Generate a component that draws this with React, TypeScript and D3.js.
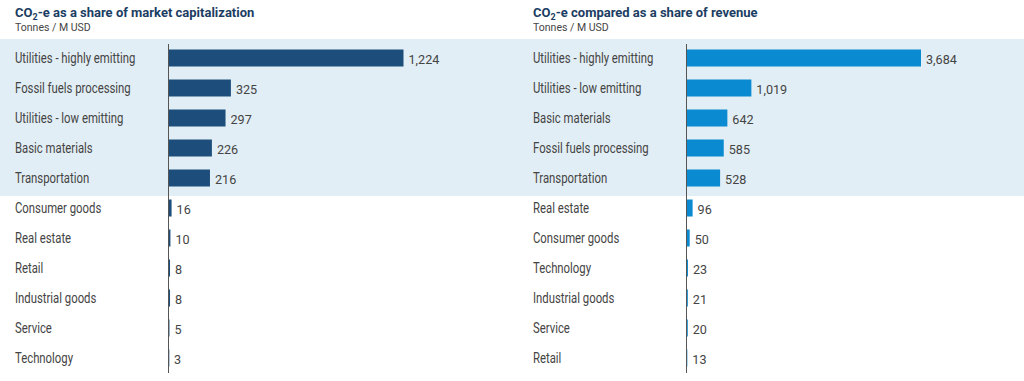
import React from "react";
import * as d3 from "d3";

const capCategories = [
  "Utilities - highly emitting",
  "Fossil fuels processing",
  "Utilities - low emitting",
  "Basic materials",
  "Transportation",
  "Consumer goods",
  "Real estate",
  "Retail",
  "Industrial goods",
  "Service",
  "Technology",
];
const capValues = [1224, 325, 297, 226, 216, 16, 10, 8, 8, 5, 3];

const revCategories = [
  "Utilities - highly emitting",
  "Utilities - low emitting",
  "Basic materials",
  "Fossil fuels processing",
  "Transportation",
  "Real estate",
  "Consumer goods",
  "Technology",
  "Industrial goods",
  "Service",
  "Retail",
];
const revValues = [3684, 1019, 642, 585, 528, 96, 50, 23, 21, 20, 13];

const highlightedCount = 5;
const fmt = d3.format(",");

type PanelProps = {
  x0: number;
  axisX: number;
  maxX: number;
  categories: string[];
  values: number[];
  color: string;
  title: string;
};

const FONT = "Roboto, 'Noto Sans', sans-serif";

function Panel({ x0, axisX, maxX, categories, values, color, title }: PanelProps) {
  const y = d3
    .scaleBand<number>()
    .domain(d3.range(categories.length))
    .range([43, 373]);
  const maxV = d3.max(values) as number;
  const x = d3.scaleLinear().domain([0, maxV]).range([axisX, maxX]);
  const barH = 17;
  return (
    <g>
      <text x={x0} y={17} fontFamily={FONT} fontWeight={700} fontSize={13} fill="#1b3d63">
        CO<tspan fontSize={9} dy={3}>2</tspan>
        <tspan dy={-3}>{title}</tspan>
      </text>
      <text
        transform={`translate(${x0},31) scale(0.9,1)`}
        fontFamily={FONT}
        fontSize={11.7}
        fill="#444"
      >
        Tonnes / M USD
      </text>
      {categories.map((c, i) => {
        const cy = (y(i) as number) + y.bandwidth() / 2;
        return (
          <g key={c}>
            <text
              transform={`translate(${x0},${cy + 5}) scale(0.81,1)`}
              fontFamily={FONT}
              fontSize={14}
              fill="#444"
            >
              {c}
            </text>
            <rect
              x={x(0)}
              y={cy - barH / 2}
              width={Math.max(0.8, x(values[i]) - x(0))}
              height={barH}
              fill={color}
            />
            <text
              transform={`translate(${x(values[i]) + 5},${cy + 5.5}) scale(0.97,1)`}
              fontFamily={FONT}
              fontSize={13}
              fill="#444"
            >
              {fmt(values[i])}
            </text>
          </g>
        );
      })}
      <line x1={axisX} x2={axisX} y1={44} y2={373} stroke="#555" strokeWidth={1} />
    </g>
  );
}

export default function App() {
  const y = d3
    .scaleBand<number>()
    .domain(d3.range(capCategories.length))
    .range([43, 373]);
  const bandTop = (y(0) as number) - 4;
  const bandBottom = (y(highlightedCount - 1) as number) + y.bandwidth() + 3;
  return (
    <svg
      width={1024}
      height={381}
      style={{ position: "absolute", left: 0, top: 0, background: "#fff" }}
    >
      <rect x={0} y={bandTop} width={1024} height={bandBottom - bandTop} fill="#e2eef5" />
      <Panel
        x0={15}
        axisX={168.5}
        maxX={403.5}
        categories={capCategories}
        values={capValues}
        color="#1d4e7b"
        title="-e as a share of market capitalization"
      />
      <Panel
        x0={533}
        axisX={686.5}
        maxX={921}
        categories={revCategories}
        values={revValues}
        color="#0a8ad0"
        title="-e compared as a share of revenue"
      />
    </svg>
  );
}
